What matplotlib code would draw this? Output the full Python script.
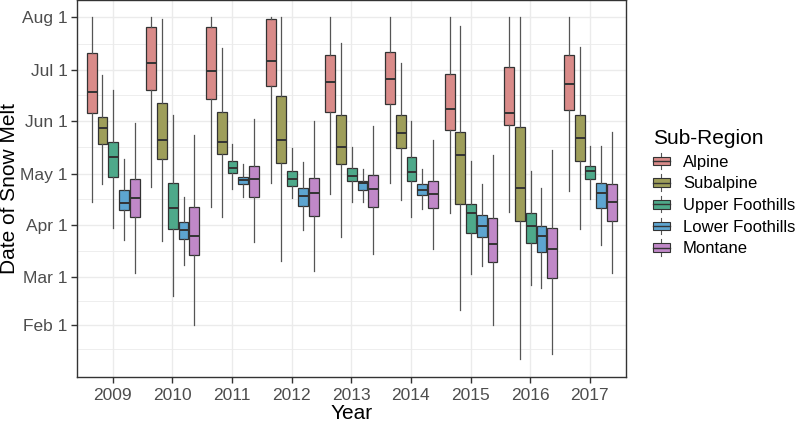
import matplotlib
matplotlib.use("Agg")
import matplotlib.pyplot as plt
from matplotlib.patches import Patch, Rectangle
from matplotlib.lines import Line2D
from matplotlib.legend_handler import HandlerBase

plt.rcParams['font.family'] = ['Liberation Sans', 'DejaVu Sans']

# ----------------------------
# Data (day of year)
# ----------------------------
years = ["2009", "2010", "2011", "2012", "2013", "2014", "2015", "2016", "2017"]
regions = ["Alpine", "Subalpine", "Upper Foothills", "Lower Foothills", "Montane"]

# each entry: [whisker low, q1, median, q3, whisker high]
alpine = [
    [104.5, 156.5, 169.2, 191.8, 213.0],
    [113.0, 170.2, 186.3, 207.5, 213.0],
    [101.2, 164.9, 181.2, 207.5, 213.0],
    [115.4, 172.6, 187.3, 211.8, 213.0],
    [108.9, 157.5, 175.1, 190.8, 213.0],
    [115.7, 161.8, 176.9, 192.8, 213.0],
    [97.7, 146.7, 158.9, 179.6, 213.0],
    [98.6, 149.6, 156.5, 183.9, 213.0],
    [110.8, 158.5, 173.8, 190.6, 213.0],
]
subalpine = [
    [114.9, 138.3, 148.1, 154.2, 179.1],
    [81.2, 129.5, 140.6, 162.4, 211.8],
    [95.7, 132.6, 139.8, 157.5, 194.8],
    [69.6, 127.5, 140.6, 166.5, 213.0],
    [83.9, 126.5, 136.9, 155.5, 198.1],
    [105.5, 135.9, 144.8, 155.5, 186.3],
    [40.8, 103.2, 132.0, 145.5, 207.9],
    [11.8, 93.4, 112.8, 148.6, 213.0],
    [88.3, 128.5, 141.8, 155.4, 195.7],
]
upper_foothills = [
    [89.2, 119.2, 131.0, 139.5, 170.2],
    [49.1, 88.3, 101.0, 115.5, 155.5],
    [112.0, 121.2, 124.5, 128.5, 138.5],
    [106.5, 113.8, 118.1, 122.4, 135.9],
    [104.5, 116.7, 119.6, 124.5, 136.9],
    [95.7, 116.7, 121.8, 130.6, 152.0],
    [61.8, 85.9, 98.1, 103.2, 128.6],
    [55.5, 80.4, 90.4, 97.7, 122.6],
    [105.9, 117.7, 122.6, 125.5, 137.5],
]
lower_foothills = [
    [82.0, 99.5, 103.8, 111.4, 129.8],
    [67.3, 82.4, 87.9, 92.4, 107.5],
    [107.5, 114.9, 117.3, 119.2, 126.5],
    [87.9, 102.0, 107.9, 112.4, 127.7],
    [104.5, 111.4, 115.7, 116.7, 123.6],
    [100.1, 108.5, 111.4, 114.8, 123.6],
    [66.7, 83.9, 90.4, 96.7, 114.8],
    [53.6, 75.1, 84.4, 90.4, 112.8],
    [79.1, 100.6, 109.8, 115.4, 137.5],
]
montane = [
    [62.8, 95.4, 106.5, 117.7, 150.6],
    [32.0, 73.2, 84.5, 101.2, 143.8],
    [81.0, 107.1, 118.1, 125.5, 153.2],
    [64.0, 96.3, 109.8, 118.3, 152.0],
    [73.6, 101.2, 111.8, 120.2, 149.2],
    [76.5, 100.6, 108.9, 116.7, 140.8],
    [32.0, 68.9, 79.6, 94.8, 132.0],
    [14.9, 59.5, 76.7, 89.2, 134.9],
    [62.8, 93.4, 104.5, 114.8, 145.4],
]
region_stats = [alpine, subalpine, upper_foothills, lower_foothills, montane]

date_ticks = [32, 60, 91, 121, 152, 182, 213]
date_labels = ["Feb 1", "Mar 1", "Apr 1", "May 1", "Jun 1", "Jul 1", "Aug 1"]

colors = ["#D98B89", "#9E9E5A", "#4EA98A", "#5DA5D0", "#C088C8"]


class BoxKeyHandler(HandlerBase):
    # small boxplot glyph for the legend keys
    def create_artists(self, legend, orig_handle, xdescent, ydescent,
                       width, height, fontsize, trans):
        x0, y0 = -xdescent, -ydescent
        cx, cy = x0 + width / 2, y0 + height / 2
        bw, bh = width, height * 0.75
        whisk = Line2D([cx, cx], [y0 - height * 0.2, y0 + height * 1.2],
                       color="#555555", lw=0.8, transform=trans)
        rect = Rectangle((cx - bw / 2, cy - bh / 2), bw, bh,
                         facecolor=orig_handle.get_facecolor(),
                         edgecolor="#333333", lw=0.8, transform=trans)
        med = Line2D([cx - bw / 2, cx + bw / 2], [cy, cy],
                     color="#333333", lw=1.0, transform=trans)
        return [whisk, rect, med]


def main():
    fig = plt.figure(figsize=(8, 4.25), dpi=100)
    ax = fig.add_axes([0.096, 0.113, 0.686, 0.886])

    n = len(regions)
    step = 0.18
    for k, (name, stats, col) in enumerate(zip(regions, region_stats, colors)):
        offset = (k - (n - 1) / 2) * step + 0.01
        bxp_stats = []
        for lo, q1, med, q3, hi in stats:
            bxp_stats.append({"whislo": lo, "q1": q1, "med": med, "q3": q3, "whishi": hi})
        positions = [i + 1 + offset for i in range(len(years))]
        ax.bxp(bxp_stats, positions=positions, widths=0.165, patch_artist=True,
               showcaps=False, showfliers=False, manage_ticks=False,
               boxprops=dict(facecolor=col, edgecolor="#333333", linewidth=0.9),
               whiskerprops=dict(color="#555555", linewidth=0.9),
               medianprops=dict(color="#333333", linewidth=1.4))

    ax.set_xlim(0.4, 9.6)
    ax.set_ylim(1.4, 222.9)
    ax.set_xticks(range(1, len(years) + 1))
    ax.set_xticklabels(years)
    ax.set_yticks(date_ticks)
    ax.set_yticklabels(date_labels)
    minor = [(a + b) / 2 for a, b in zip(date_ticks[:-1], date_ticks[1:])]
    minor = [date_ticks[0] - (date_ticks[1] - date_ticks[0]) / 2] + minor
    ax.set_yticks(minor, minor=True)
    ax.tick_params(axis="y", which="minor", length=0)

    ax.set_axisbelow(True)
    ax.grid(which="major", color="#EBEBEB", linewidth=1.0)
    ax.grid(which="minor", axis="y", color="#EBEBEB", linewidth=0.6)
    for sp in ax.spines.values():
        sp.set_color("#333333")
        sp.set_linewidth(1.0)
    ax.tick_params(which="major", length=4, color="#333333", labelcolor="#4D4D4D",
                   labelsize=12.5, width=1.0, pad=2.5)
    ax.tick_params(axis="x", pad=4)

    ax.set_xlabel("Year", fontsize=15, labelpad=1)
    ax.set_ylabel("Date of Snow Melt", fontsize=15, labelpad=1)

    handles = [Patch(facecolor=c, label=r) for r, c in zip(regions, colors)]
    leg = fig.legend(handles=handles, title="Sub-Region", loc="upper left",
                     bbox_to_anchor=(0.808, 0.712), frameon=False, fontsize=12,
                     title_fontsize=15, handler_map={Patch: BoxKeyHandler()},
                     handlelength=1.0, handleheight=0.7, labelspacing=0.4,
                     handletextpad=0.8, borderaxespad=0.0)
    leg._legend_box.align = "left"

    fig.savefig("out.png", dpi=100)
    plt.close(fig)


if __name__ == "__main__":
    main()
